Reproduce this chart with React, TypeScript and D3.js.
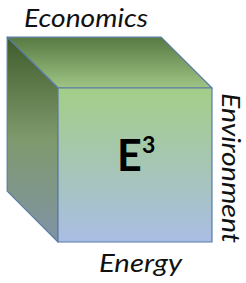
import React from "react";
import * as d3 from "d3";

// Diagram content
const axisLabels = ["Economics", "Environment", "Energy"];
const centerLabel = ["E", "3"];
// cube in unit coordinates: front face size 1, depth offset
const cubeSize = [1];
const depth = [0.33];

const W = 246;
const H = 283;

export default function App() {
  const sx = d3.scaleLinear().domain([0, 1]).range([58, 212]);
  const sy = d3.scaleLinear().domain([0, 1]).range([88, 242]);
  const s = cubeSize[0];
  const d = depth[0];
  const p = (x: number, y: number) => `${sx(x)},${sy(y)}`;
  const front = [p(0, 0), p(s, 0), p(s, s), p(0, s)].join(" ");
  const top = [p(-d, -d), p(s - d, -d), p(s, 0), p(0, 0)].join(" ");
  const left = [p(-d, -d), p(0, 0), p(0, s), p(-d, s - d)].join(" ");
  const font = "Lato, 'Open Sans', sans-serif";
  return (
    <svg width={W} height={H} style={{ position: "absolute", left: 0, top: 0 }}>
      <defs>
        <linearGradient id="gTop" x1="0" y1="0" x2="0" y2="1">
          <stop offset="0" stopColor="#577943" />
          <stop offset="1" stopColor="#9fc585" />
        </linearGradient>
        <linearGradient id="gLeft" x1="0" y1="0" x2="0" y2="1">
          <stop offset="0" stopColor="#3f5c2b" />
          <stop offset="0.5" stopColor="#7f9a6d" />
          <stop offset="1" stopColor="#7f93a6" />
        </linearGradient>
        <linearGradient id="gFront" x1="0" y1="0" x2="0" y2="1">
          <stop offset="0" stopColor="#a3ce87" />
          <stop offset="0.5" stopColor="#a6c6b4" />
          <stop offset="1" stopColor="#a9bde4" />
        </linearGradient>
      </defs>
      <polygon points={top} fill="url(#gTop)" stroke="#5b7aa6" strokeWidth={1.2} strokeLinejoin="round" />
      <polygon points={left} fill="url(#gLeft)" stroke="#5b7aa6" strokeWidth={1.2} strokeLinejoin="round" />
      <polygon points={front} fill="url(#gFront)" stroke="#5b7aa6" strokeWidth={1.2} strokeLinejoin="round" />
      <text x={24} y={27} fontFamily={font} fontStyle="italic" fontSize={25} fill="#111" textLength={124} lengthAdjust="spacingAndGlyphs">
        {axisLabels[0]}
      </text>
      <text transform="translate(222,93) rotate(90)" fontFamily={font} fontStyle="italic" fontSize={25} fill="#111" textLength={150} lengthAdjust="spacingAndGlyphs">
        {axisLabels[1]}
      </text>
      <text x={99} y={272} fontFamily={font} fontStyle="italic" fontSize={25} fill="#111" textLength={83} lengthAdjust="spacingAndGlyphs">
        {axisLabels[2]}
      </text>
      <text x={117} y={171} fontFamily={font} fontWeight="bold" fontSize={43} fill="#000">
        {centerLabel[0]}
      </text>
      <text x={142} y={153} fontFamily={font} fontWeight="bold" fontSize={23} fill="#000">
        {centerLabel[1]}
      </text>
    </svg>
  );
}
